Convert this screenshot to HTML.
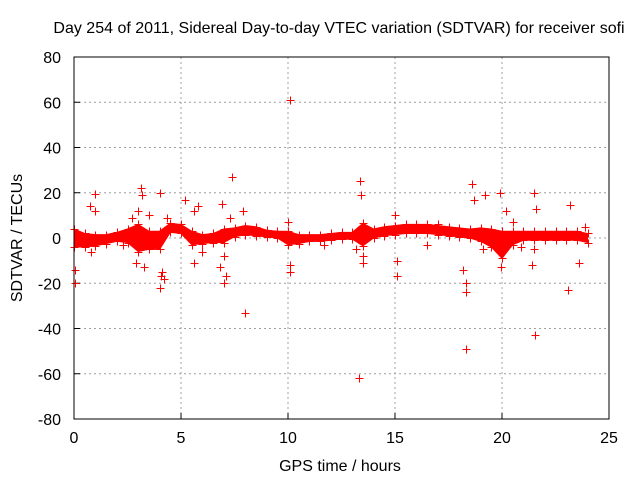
<!DOCTYPE html>
<html><head><meta charset="utf-8"><style>
html,body{margin:0;padding:0;background:#fff;}
svg{display:block;font-family:"Liberation Sans",sans-serif;}
</style></head><body>
<svg id="chart" width="640" height="480" viewBox="0 0 640 480">
<text x="339" y="33" font-size="16" text-anchor="middle" fill="#000">Day 254 of 2011, Sidereal Day-to-day VTEC variation (SDTVAR) for receiver sofi</text>
<text x="340" y="471" font-size="16" text-anchor="middle">GPS time / hours</text>
<text transform="translate(22,238) rotate(-90)" font-size="16" text-anchor="middle">SDTVAR / TECUs</text>
<g id="grid"></g>
<g id="ticks"></g>
<g id="marks"></g>
<rect x="74" y="57" width="535" height="362" fill="none" stroke="#000" stroke-width="1"/>
</svg>
<script>
const xTicks=[0,5,10,15,20,25];
const yTicks=[80,60,40,20,0,-20,-40,-60,-80];
const bandHours=[0,0.5,1,1.5,2,2.5,3,3.5,4,4.5,5,5.5,6,6.5,7,7.5,8,8.5,9,9.5,10,10.5,11,11.5,12,12.5,13,13.5,14,14.5,15,15.5,16,16.5,17,17.5,18,18.5,19,19.5,20,20.5,21,21.5,22,22.5,23,23.5,24];
const bandCenter=[0,-1,-1,-0.5,0.5,1,0,-1,-1,4.5,4,0,-0.5,0,1,2.5,3.5,3,2,1.5,0,-0.5,0,0,0.5,1,1,1.5,2,3,3.5,4,4,4,3.5,3,2.5,2,1.5,0,-3,0,1,1,1,1,1,1,0];
const bandHalf=[4,3,2.5,2,2,3,6,4,4,2,2,3,2,2,3,2,2,2,1.5,1.5,3,2,1.5,1.5,1.5,1.5,1.5,5,2,2,2,2,2,2,2,2,2,2,3,4,6,3,2,2,2,2,2,2,2];
const outX=[0.05,0.05,0.75,1,1,0.8,2.7,3.0,3.15,3.2,3.25,2.9,4.0,4.0,4.05,4.1,4.2,4.35,5.2,5.6,5.8,5.6,6.0,6.8,6.9,7.0,7.1,7.0,7.4,7.3,8.0,7.9,10.1,10.1,10.1,10.0,11.7,13.3,13.35,13.4,13.5,13.5,13.2,15.1,15.0,15.1,18.2,18.3,18.3,18.3,18.6,18.7,19.2,19.1,19.9,20.2,20.5,21.5,21.55,21.6,21.5,21.4,23.1,23.2,23.6,23.9,20.9,19.95,16.5,17.0,3.5,2.3];
const outY=[-14,-20,14,19.5,12,-6,9,12,22,19,-13,-11,20,-22,-17,-15,-18,9,17,12,14,-11,-6,-13,15,-20,-17,-8,27,9,-33,12,61,-12,-15,7,-3,-62,25,19,-8,-11,-5,-17,10,-10,-14,-20,-24,-49,24,17,19,-5,20,12,7,20,-43,13,-5,-12,-23,14.5,-11,5,-4,-13,-3,6,10,-3];
const PL=74,PR=609,PT=57,PB=419;
const sx=v=>PL+(v-0)/25*(PR-PL);
const sy=v=>PB-(v+80)/160*(PB-PT);
const NS="http://www.w3.org/2000/svg";
const gridG=document.getElementById('grid'),ticksG=document.getElementById('ticks'),marksG=document.getElementById('marks');
function mk(tag,attrs,parent){const e=document.createElementNS(NS,tag);for(const k in attrs)e.setAttribute(k,attrs[k]);parent.appendChild(e);return e;}
xTicks.forEach(t=>{
  const x=sx(t);
  if(t>0&&t<25){const g=mk('line',{x1:x,x2:x,y1:PT,y2:PB,stroke:'#a0a0a0','stroke-dasharray':'2,3'},gridG);
  
  }
  const tk=mk('line',{x1:x,x2:x,y1:PB,y2:PB-6,stroke:'#000'},gridG);
  
  
  const lb=mk('text',{x:x,y:PB+24,'font-size':16,'text-anchor':'middle'},ticksG);lb.textContent=t;
  
  
});
yTicks.forEach(t=>{
  const y=sy(t);
  if(t>-80&&t<80){const g=mk('line',{x1:PL,x2:PR,y1:y,y2:y,stroke:'#a0a0a0','stroke-dasharray':'2,3'},gridG);
  
  }
  const tk=mk('line',{x1:PL,x2:PL+6,y1:y,y2:y,stroke:'#000'},gridG);
  
  
  const lb=mk('text',{x:PL-13,y:y+6,'font-size':16,'text-anchor':'end'},ticksG);lb.textContent=t;
  
  
});
const bandTop=[],bandBot=[];
bandHours.forEach((h,i)=>{bandTop.push(sx(h)+','+sy(bandCenter[i]+bandHalf[i]));bandBot.unshift(sx(h)+','+sy(bandCenter[i]-bandHalf[i]));});
const band=mk('polygon',{points:bandTop.concat(bandBot).join(' '),fill:'#ff0000',stroke:'#ff0000','stroke-width':1},marksG);


let ed='';
bandHours.forEach((h,i)=>{
  const x=Math.round(sx(h))+0.5;
  [bandCenter[i]+bandHalf[i],bandCenter[i]-bandHalf[i]].forEach(v=>{const y=Math.round(sy(v))+0.5;ed+=`M${x-4},${y}h8M${x},${y-4}v8`;});
});
const edges=mk('path',{d:ed,stroke:'#ff0000','stroke-width':1,fill:'none'},marksG);


let d='';
outX.forEach((h,i)=>{const x=Math.round(sx(h))+0.5,y=Math.round(sy(outY[i]))+0.5;d+=`M${x-4},${y}h8M${x},${y-4}v8`;});
const pts=mk('path',{d:d,stroke:'#ff0000','stroke-width':1,fill:'none'},marksG);


</script>
</body></html>
